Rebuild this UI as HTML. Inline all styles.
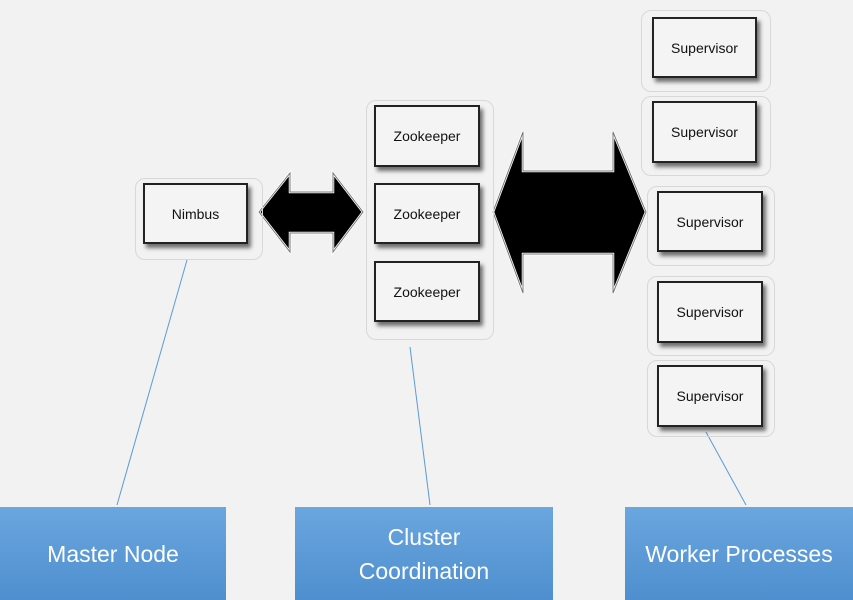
<!DOCTYPE html>
<html><head><style>
body{margin:0;width:853px;height:600px;background:#f2f2f2;position:relative;overflow:hidden;font-family:"Liberation Sans",sans-serif}
.b{position:absolute;background:#f4f4f4;border:2px solid #222;box-sizing:border-box;box-shadow:3px 4px 4px rgba(0,0,0,.55);display:flex;align-items:center;justify-content:center;font-size:14px;color:#111}
.o{position:absolute;border:1px solid #d8d8d8;border-radius:10px}
.bl{position:absolute;top:507px;height:93px;background:linear-gradient(#6aa6df,#4f8fcf);color:#fff;font-size:23px;display:flex;align-items:center;justify-content:center;text-align:center;line-height:34px}
</style></head><body>
<svg width="853" height="600" style="position:absolute;left:0;top:0">
<line x1="187" y1="260" x2="117" y2="505" stroke="#5b9bd5" stroke-width="1"/>
<line x1="410" y1="347" x2="430" y2="505" stroke="#5b9bd5" stroke-width="1"/>
<line x1="706" y1="432" x2="746" y2="505" stroke="#5b9bd5" stroke-width="1"/>
<polygon points="259,212 290,173 290,192 333,192 333,173 363,212 333,252 333,233 290,233 290,252" fill="#000" stroke="#fff" stroke-width="2.5"/>
<polygon points="259,212 290,173 290,192 333,192 333,173 363,212 333,252 333,233 290,233 290,252" fill="none" stroke="#777" stroke-width="1"/>
<polygon points="493,212 523,132 523,171 613,171 613,132 646,212 613,293 613,254 523,254 523,293" fill="#000" stroke="#fff" stroke-width="2.5"/>
<polygon points="493,212 523,132 523,171 613,171 613,132 646,212 613,293 613,254 523,254 523,293" fill="none" stroke="#777" stroke-width="1"/>
</svg>
<div class="o" style="left:135px;top:178px;width:126px;height:80px"></div>
<div class="o" style="left:366px;top:100px;width:126px;height:238px"></div>
<div class="o" style="left:641px;top:10px;width:128px;height:80px"></div>
<div class="o" style="left:641px;top:96px;width:128px;height:78px"></div>
<div class="o" style="left:647px;top:186px;width:126px;height:78px"></div>
<div class="o" style="left:647px;top:276px;width:126px;height:78px"></div>
<div class="o" style="left:647px;top:360px;width:126px;height:75px"></div>
<div class="b" style="left:143px;top:183px;width:105px;height:61px">Nimbus</div>
<div class="b" style="left:374px;top:105px;width:106px;height:62px">Zookeeper</div>
<div class="b" style="left:374px;top:183px;width:106px;height:61px">Zookeeper</div>
<div class="b" style="left:374px;top:261px;width:106px;height:61px">Zookeeper</div>
<div class="b" style="left:652px;top:17px;width:105px;height:61px">Supervisor</div>
<div class="b" style="left:652px;top:101px;width:105px;height:62px">Supervisor</div>
<div class="b" style="left:657px;top:191px;width:106px;height:61px">Supervisor</div>
<div class="b" style="left:657px;top:281px;width:106px;height:62px">Supervisor</div>
<div class="b" style="left:657px;top:365px;width:106px;height:62px">Supervisor</div>
<div class="bl" style="left:0;width:226px">Master Node</div>
<div class="bl" style="left:295px;width:258px">Cluster<br>Coordination</div>
<div class="bl" style="left:625px;width:228px">Worker Processes</div>
</body></html>
